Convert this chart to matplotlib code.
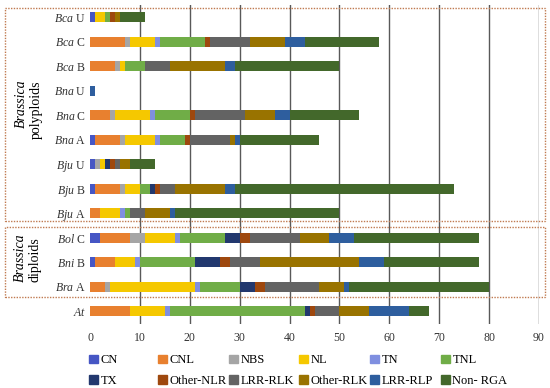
import matplotlib
matplotlib.use("Agg")
import matplotlib.pyplot as plt
from matplotlib.patches import Rectangle, Patch
import numpy as np

plt.rcParams["font.family"] = "Liberation Serif"
plt.rcParams["mathtext.fontset"] = "custom"
plt.rcParams["mathtext.rm"] = "Liberation Serif"
plt.rcParams["mathtext.it"] = "Liberation Serif:italic"

# genomes, top to bottom
genomes = ["Bca U", "Bca C", "Bca B", "Bna U", "Bna C", "Bna A",
           "Bju U", "Bju B", "Bju A", "Bol C", "Bni B", "Bra A", "At"]

cn        = [1, 0, 0, 0, 0, 1, 1, 1, 0, 2, 1, 0, 0]
cnl       = [0, 7, 5, 0, 4, 5, 0, 5, 2, 6, 4, 3, 8]
nbs       = [0, 1, 1, 0, 1, 1, 1, 1, 0, 3, 0, 1, 0]
nl        = [2, 5, 1, 0, 7, 6, 1, 3, 4, 6, 4, 17, 7]
tn        = [0, 1, 0, 0, 1, 1, 0, 0, 1, 1, 1, 1, 1]
tnl       = [1, 9, 4, 0, 7, 5, 0, 2, 1, 9, 11, 8, 27]
tx        = [0, 0, 0, 0, 0, 0, 1, 1, 0, 3, 5, 3, 1]
other_nlr = [1, 1, 0, 0, 1, 1, 1, 1, 0, 2, 2, 2, 1]
lrr_rlk   = [0, 8, 5, 0, 10, 8, 1, 3, 3, 10, 6, 11, 5]
other_rlk = [1, 7, 11, 0, 6, 1, 2, 10, 5, 6, 20, 5, 6]
lrr_rlp   = [0, 4, 2, 1, 3, 1, 0, 2, 1, 5, 5, 1, 8]
non_rga   = [5, 15, 21, 0, 14, 16, 5, 44, 33, 25, 19, 28, 4]

classes = ["CN", "CNL", "NBS", "NL", "TN", "TNL",
           "TX", "Other-NLR", "LRR-RLK", "Other-RLK", "LRR-RLP", "Non- RGA"]
series = [cn, cnl, nbs, nl, tn, tnl, tx, other_nlr, lrr_rlk, other_rlk, lrr_rlp, non_rga]
colors = ["#4656C4", "#E8802F", "#A5A5A5", "#F5C800", "#7F8FE0", "#70AD47",
          "#22386E", "#9E480E", "#636363", "#997300", "#2E5E9E", "#43682B"]

W, H = 550, 388
fig = plt.figure(figsize=(W / 100, H / 100), dpi=100)
ax = fig.add_axes([90 / W, 1 - 323.5 / H, 449 / W, 318.5 / H])

y = np.arange(len(genomes))
left = np.zeros(len(genomes))
for vals, col in zip(series, colors):
    ax.barh(y, vals, left=left, height=0.42, color=col, zorder=3)
    left += np.array(vals)

ax.set_ylim(len(genomes) - 0.5, -0.5)
ax.set_xlim(0, 90)
ax.set_xticks(range(0, 100, 10))
for v in range(10, 100, 10):
    ax.axvline(v, color="#595959", lw=1.0, zorder=1)

labels = []
for g in genomes:
    if g == "At":
        labels.append(r"$\mathit{At}$")
    else:
        sp, sub = g.split()
        labels.append(r"$\mathit{" + sp + "}$ " + sub)
ax.set_yticks(y)
ax.set_yticklabels(labels, fontsize=8.5)
ax.tick_params(axis="both", length=0, labelsize=8.5, colors="#333333")
ax.tick_params(axis="y", pad=3)
ax.tick_params(axis="x", pad=6)
for s in ax.spines.values():
    s.set_visible(False)

# group boxes
box_col = "#C07A50"
fig.patches.append(Rectangle((5 / W, 1 - 221 / H), 540 / W, 213 / H,
                             transform=fig.transFigure, fill=False,
                             ls=(0, (1, 1)), lw=1.0, ec=box_col))
fig.patches.append(Rectangle((5 / W, 1 - 297 / H), 540 / W, 70 / H,
                             transform=fig.transFigure, fill=False,
                             ls=(0, (1, 1)), lw=1.0, ec=box_col))

fig.text(21 / W, 1 - 104 / H, "Brassica", rotation=90, style="italic",
         ha="center", va="center", fontsize=10)
fig.text(36 / W, 1 - 110 / H, "polyploids", rotation=90,
         ha="center", va="center", fontsize=10)
fig.text(20 / W, 1 - 258 / H, "Brassica", rotation=90, style="italic",
         ha="center", va="center", fontsize=10)
fig.text(35 / W, 1 - 260 / H, "diploids", rotation=90,
         ha="center", va="center", fontsize=10)

# legend: six evenly spaced columns of two entries
handles = [Patch(color=c) for c in colors]
col_x = [88, 157, 228, 298, 369, 440]
for i, x0 in enumerate(col_x):
    fig.legend([handles[i], handles[i + 6]], [classes[i], classes[i + 6]],
               loc="upper left", bbox_to_anchor=(x0 / W, 1 - 353 / H),
               frameon=False, fontsize=9, handlelength=0.7, handleheight=0.7,
               handletextpad=0.2, labelspacing=0.7, borderpad=0.1,
               borderaxespad=0)

plt.savefig("out.png", dpi=100)
plt.close()
